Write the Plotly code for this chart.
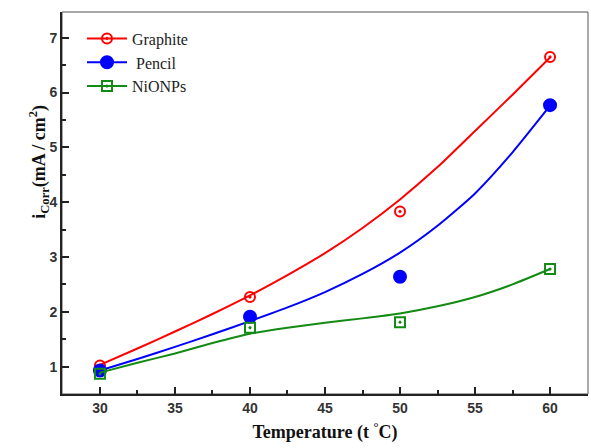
import plotly.graph_objects as go

# measured data points
temps = [30, 40, 50, 60]
graphite = [1.02, 2.27, 3.83, 6.65]
pencil = [0.93, 1.91, 2.64, 5.77]
nionps = [0.87, 1.71, 1.81, 2.78]

# fitted curves
fit_x = [30, 32.5, 35, 37.5, 40, 42.5, 45, 47.5, 50, 52.5, 55, 57.5, 60]
graphite_fit = [1.03, 1.33, 1.64, 1.96, 2.30, 2.67, 3.07, 3.53, 4.05, 4.64, 5.30, 5.96, 6.64]
pencil_fit = [0.93, 1.14, 1.36, 1.59, 1.83, 2.08, 2.36, 2.69, 3.08, 3.57, 4.16, 4.91, 5.76]
nionps_fit = [0.89, 1.07, 1.24, 1.43, 1.60, 1.71, 1.80, 1.88, 1.97, 2.10, 2.27, 2.50, 2.78]

x_ticks = [30, 35, 40, 45, 50, 55, 60]
y_ticks = [1, 2, 3, 4, 5, 6, 7]

names = ["Graphite", " Pencil", "NiONPs"]
colors = ["#ff0000", "#0000ff", "#138a13"]
symbols = ["circle-open-dot", "circle", "square-open-dot"]
sizes = [10, 12, 10]

fig = go.Figure()
for name, col, sym, sz, pts, fit in zip(names, colors, symbols, sizes,
                                        [graphite, pencil, nionps],
                                        [graphite_fit, pencil_fit, nionps_fit]):
    fig.add_trace(go.Scatter(x=fit_x, y=fit, mode="lines",
                             line=dict(color=col, width=2, shape="spline", smoothing=0.6),
                             showlegend=False, hoverinfo="skip"))
    fig.add_trace(go.Scatter(x=temps, y=pts, mode="markers",
                             marker=dict(symbol=sym, size=sz, color=col, line=dict(color=col, width=2)),
                             showlegend=False))
    fig.add_trace(go.Scatter(x=[None], y=[None], mode="lines+markers", name=name,
                             line=dict(color=col, width=2),
                             marker=dict(symbol=sym, size=sz, color=col, line=dict(color=col, width=2))))

tickfont = dict(family="Liberation Sans", size=14, color="#333333")
fig.update_xaxes(range=[27.47, 62.53], tickmode="array", tickvals=x_ticks,
                 ticktext=[f"<b>{v}</b>" for v in x_ticks],
                 ticks="inside", ticklen=7, tickwidth=2, tickcolor="#222",
                 minor=dict(ticks="inside", ticklen=4, tickwidth=2, tickcolor="#222", dtick=2.5, tick0=27.5),
                 showline=True, linewidth=2, linecolor="#222", showgrid=False, zeroline=False,
                 tickfont=tickfont,
                 title=dict(text="<b>Temperature (t <sup>°</sup>C)</b>",
                            font=dict(family="Liberation Serif", size=18, color="#111"), standoff=11))
fig.update_yaxes(range=[0.5, 7.47], tickmode="array", tickvals=y_ticks,
                 ticktext=[f"<b>{v}</b>" for v in y_ticks],
                 ticks="inside", ticklen=7, tickwidth=2, tickcolor="#222",
                 minor=dict(ticks="inside", ticklen=4, tickwidth=2, tickcolor="#222", dtick=0.5, tick0=0.5),
                 showline=True, linewidth=2, linecolor="#222", showgrid=False, zeroline=False,
                 tickfont=tickfont)

fig.add_shape(type="rect", xref="paper", yref="paper", x0=0, y0=0, x1=1, y1=1,
              line=dict(color="#555", width=1), layer="below")

fig.add_annotation(text="<b>i<sub>Corr</sub>(mA / cm<sup>2</sup>)</b>", xref="paper", yref="paper",
                   x=-0.072, y=0.607, textangle=-90, showarrow=False,
                   font=dict(family="Liberation Serif", size=18, color="#111"))

fig.update_layout(width=591, height=448, margin=dict(l=62, r=3, t=12, b=54),
                  plot_bgcolor="white", paper_bgcolor="white",
                  legend=dict(x=0.038, y=0.975, xanchor="left", yanchor="top", bgcolor="rgba(0,0,0,0)",
                              font=dict(family="Liberation Serif", size=16, color="#222"),
                              tracegroupgap=0, itemwidth=40))

fig.write_html("out.html")
